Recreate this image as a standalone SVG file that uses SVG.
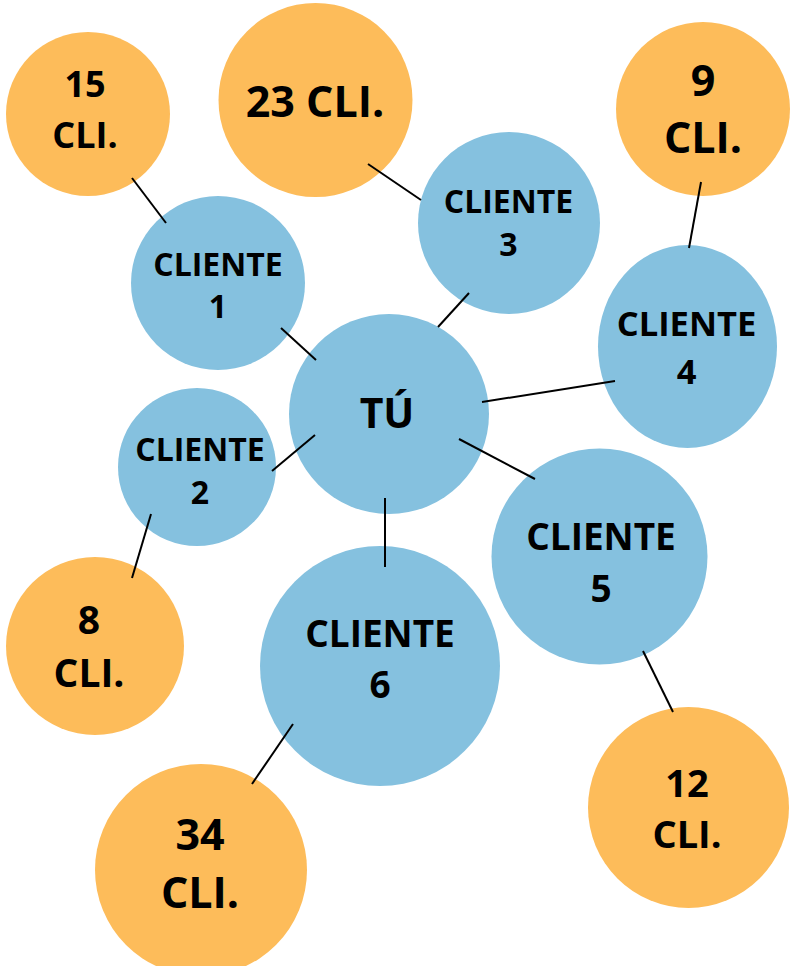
<svg xmlns="http://www.w3.org/2000/svg" width="790" height="966" viewBox="0 0 790 966">
<style>
.b{fill:#85C1DF}
.o{fill:#FDBC5A}
text{font-family:"Open Sans","Noto Sans","DejaVu Sans",sans-serif;font-weight:700;fill:#000;text-anchor:middle}
#connectors line{stroke:#000;stroke-width:2}
</style>
<rect width="790" height="966" fill="#fff"/>
<g id="o15"><circle class="o" cx="88" cy="114" r="82"/><text font-size="36" x="85" y="97">15</text><text font-size="36" x="85" y="148">CLI.</text></g>
<g id="o23"><circle class="o" cx="315.5" cy="100" r="97"/><text font-size="43" x="315" y="117">23 CLI.</text></g>
<g id="o9"><circle class="o" cx="703" cy="109" r="87"/><text font-size="43" x="703" y="96">9</text><text font-size="43" x="703" y="153">CLI.</text></g>
<g id="o8"><circle class="o" cx="95" cy="646" r="89"/><text font-size="39" x="89" y="634">8</text><text font-size="39" x="89" y="687">CLI.</text></g>
<g id="o12"><circle class="o" cx="688.5" cy="807.5" r="100.5"/><text font-size="38" x="687" y="797">12</text><text font-size="38" x="687" y="848">CLI.</text></g>
<g id="o34"><circle class="o" cx="201" cy="870" r="106"/><text font-size="43" x="200" y="850">34</text><text font-size="43" x="200" y="908">CLI.</text></g>
<g id="c1"><circle class="b" cx="218" cy="283" r="87"/><text font-size="32" x="218" y="276">CLIENTE</text><text font-size="32" x="218" y="318">1</text></g>
<g id="c2"><circle class="b" cx="197" cy="467" r="79"/><text font-size="32" x="200" y="461">CLIENTE</text><text font-size="32" x="200" y="504">2</text></g>
<g id="c3"><circle class="b" cx="509" cy="223" r="91"/><text font-size="32" x="508.5" y="213">CLIENTE</text><text font-size="32" x="508.5" y="256">3</text></g>
<g id="c4"><ellipse class="b" cx="687.5" cy="346.5" rx="89.5" ry="101.5"/><text font-size="34.5" x="686.5" y="336">CLIENTE</text><text font-size="34.5" x="686.5" y="384">4</text></g>
<g id="tu"><circle class="b" cx="389" cy="414" r="100"/><text font-size="41" x="387" y="428">TÚ</text></g>
<g id="c5"><circle class="b" cx="599.5" cy="556.5" r="108"/><text font-size="37" x="601" y="550">CLIENTE</text><text font-size="37" x="601" y="602">5</text></g>
<g id="c6"><circle class="b" cx="380" cy="666" r="120"/><text font-size="37" x="380" y="647">CLIENTE</text><text font-size="37" x="380" y="698">6</text></g>
<g id="connectors">
<line x1="132" y1="178" x2="166" y2="223"/>
<line x1="368" y1="164" x2="421" y2="200"/>
<line x1="701" y1="182" x2="689" y2="248"/>
<line x1="281" y1="328" x2="316" y2="360"/>
<line x1="469" y1="293" x2="438" y2="327"/>
<line x1="482" y1="402" x2="615" y2="381"/>
<line x1="315" y1="435" x2="272" y2="471"/>
<line x1="459" y1="439" x2="535" y2="479"/>
<line x1="385" y1="498" x2="385" y2="567"/>
<line x1="151" y1="514" x2="132" y2="578"/>
<line x1="643" y1="651" x2="673" y2="712"/>
<line x1="293" y1="724" x2="252" y2="784"/>
</g>
</svg>
